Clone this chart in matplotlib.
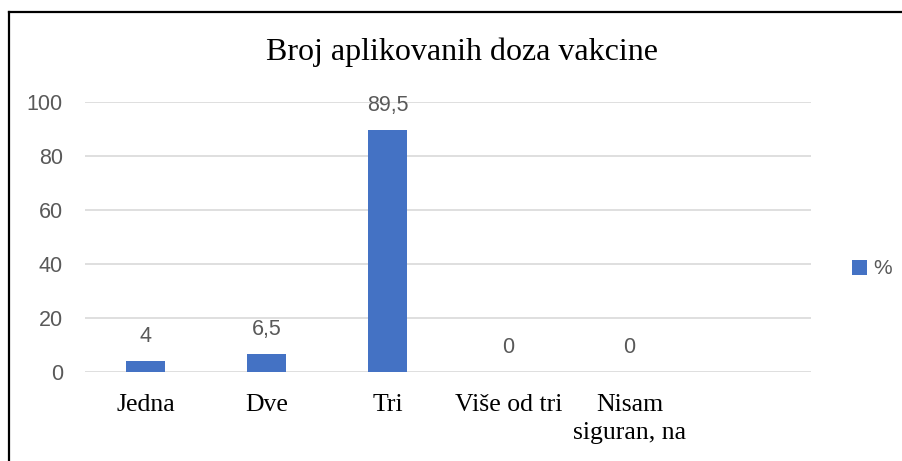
import matplotlib
matplotlib.use("Agg")
import matplotlib.pyplot as plt
from matplotlib.lines import Line2D
from matplotlib.patches import Patch

title = "Broj aplikovanih doza vakcine"
categories = ["Jedna", "Dve", "Tri", "Više od tri", "Nisam\nsiguran, na", ""]
values = [4, 6.5, 89.5, 0, 0, None]
value_labels = ["4", "6,5", "89,5", "0", "0", None]
yticks = [0, 20, 40, 60, 80, 100]
series_name = "%"

W, H = 902, 461
fig = plt.figure(figsize=(W / 100, H / 100), dpi=100)
fig.patch.set_facecolor("white")

ax = fig.add_axes([85 / W, (H - 372) / H, 726 / W, 270 / H])

blue = "#4472c4"
gray = "#595959"
sans = "Liberation Sans"
serif = "Liberation Serif"

x = list(range(len(categories)))
bar_x = [i for i, v in zip(x, values) if v is not None]
bar_v = [v for v in values if v is not None]
ax.bar(bar_x, bar_v, width=0.315, color=blue, zorder=3)

for i, v, lab in zip(x, values, value_labels):
    if v is None:
        continue
    ax.annotate(lab, (i, v), xytext=(0, 18), textcoords="offset points",
                ha="center", va="center", fontsize=15.5, color=gray,
                family=sans, zorder=4)

ax.set_xlim(-0.5, len(categories) - 0.5)
ax.set_ylim(0, 100)
ax.set_yticks(yticks)
ax.set_yticklabels([str(t) for t in yticks], family=sans, fontsize=15.5, color=gray)
ax.set_xticks(x)
ax.set_xticklabels(categories, family=serif, fontsize=18.5, color="black",
                   linespacing=1.4)
ax.tick_params(axis="y", length=0, pad=16)
ax.tick_params(axis="x", length=0, pad=15.5)
ax.grid(axis="y", color="#d9d9d9", linewidth=1.2, zorder=0)
for s in ax.spines.values():
    s.set_visible(False)
ax.set_facecolor("none")

fig.text(462 / W, 1 - 52 / H, title, family=serif, fontsize=23,
         ha="center", va="center", color="black")

leg = fig.legend(handles=[Patch(facecolor=blue, label=series_name)],
                 loc="center left", bbox_to_anchor=(852 / W, 1 - 269 / H),
                 frameon=False, prop={"family": sans, "size": 15},
                 handlelength=0.7, handleheight=0.7, handletextpad=0.3,
                 borderpad=0, borderaxespad=0)
for t in leg.get_texts():
    t.set_color(gray)

# chart frame (left and top edges visible)
fig.add_artist(Line2D([8.5 / W, 8.5 / W], [0, 1 - 12 / H], transform=fig.transFigure,
                      color="black", linewidth=1.6))
fig.add_artist(Line2D([8.5 / W, 1], [1 - 12 / H, 1 - 12 / H], transform=fig.transFigure,
                      color="black", linewidth=1.6))

fig.savefig("out.png", dpi=100)
